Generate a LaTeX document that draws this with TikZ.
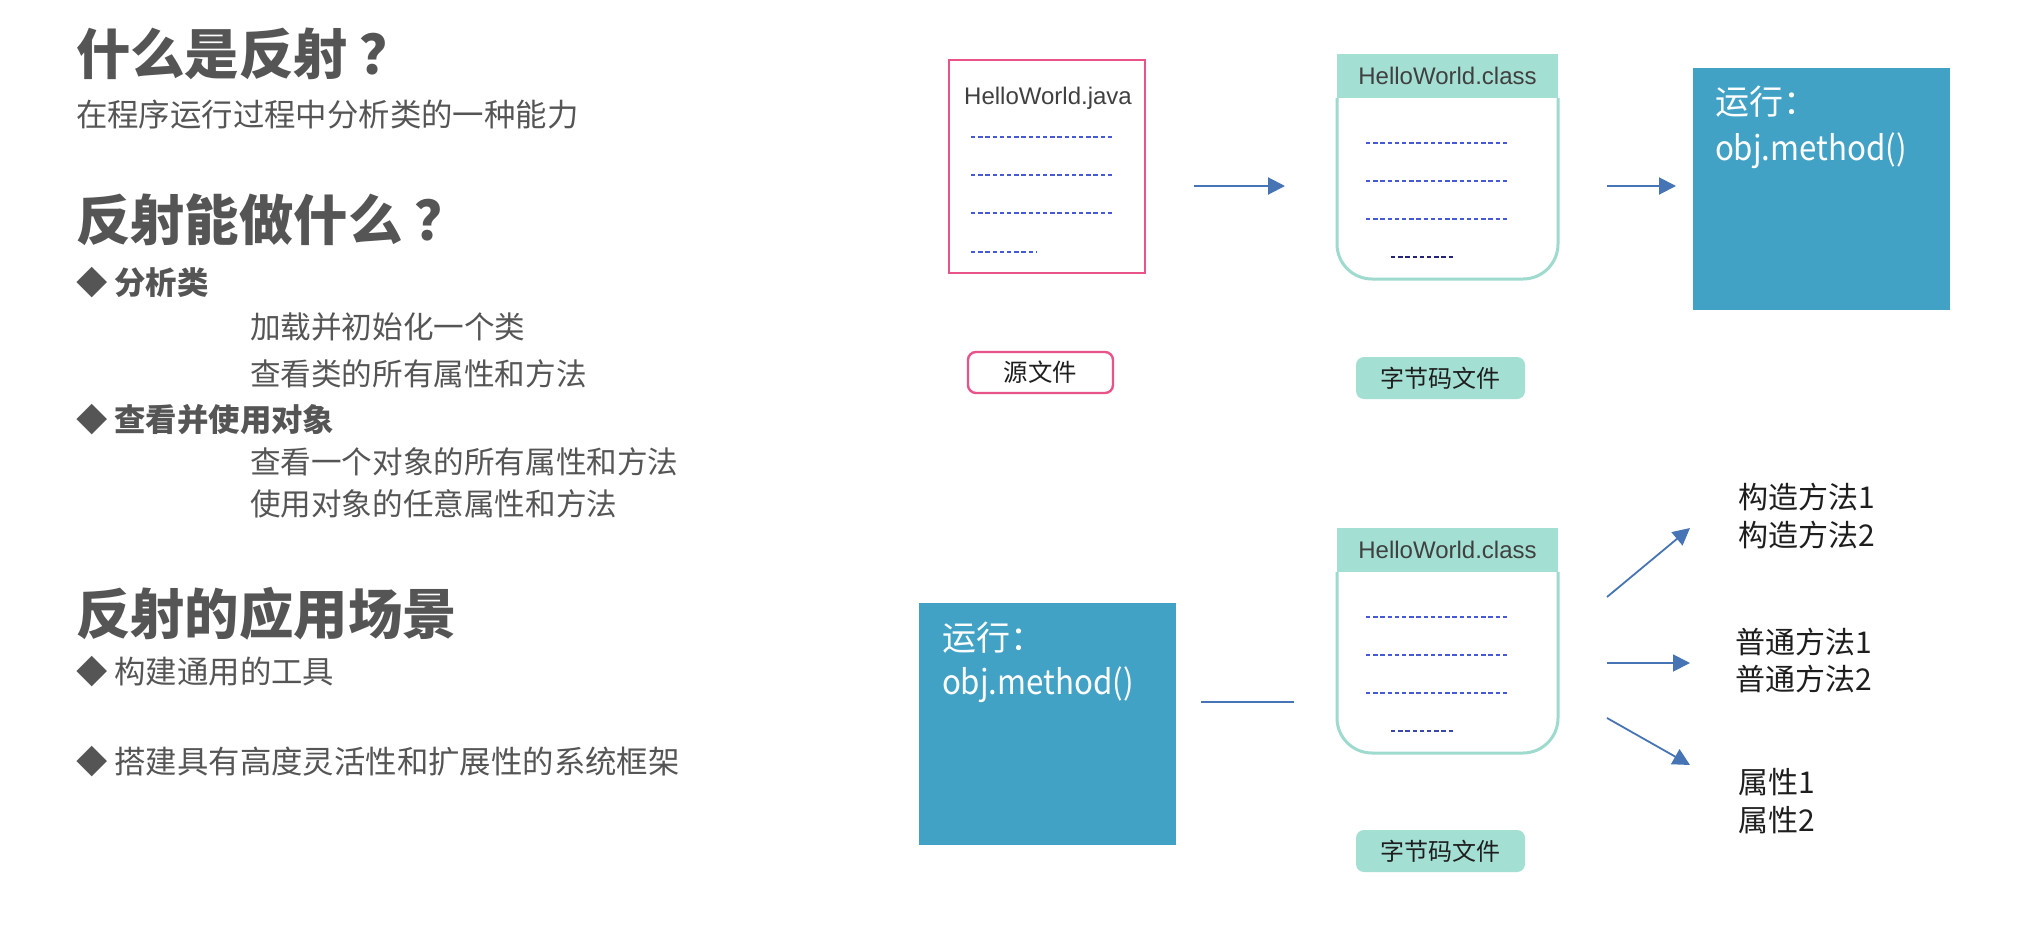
\documentclass[tikz,border=0pt]{standalone}
\usepackage{fontspec}
\setmainfont{Noto Sans CJK SC}
\newfontfamily\arialf{Liberation Sans}
\usetikzlibrary{arrows.meta}
\definecolor{ctxt}{RGB}{85,85,85}
\definecolor{cpink}{RGB}{232,84,138}
\definecolor{cteal}{RGB}{164,223,211}
\definecolor{ctealb}{RGB}{158,218,206}
\definecolor{cblue}{RGB}{66,162,198}
\definecolor{carr}{RGB}{70,116,180}
\definecolor{cdash}{RGB}{70,90,215}
\definecolor{cnavy}{RGB}{35,35,120}
\definecolor{cdark}{RGB}{30,30,30}
\definecolor{cgrey}{RGB}{64,64,64}
\newcommand{\qmk}{{\hspace{0.22em}？}}
\begin{document}
\begin{tikzpicture}[x=0.5pt,y=-0.5pt,
  every node/.style={inner sep=0pt, outer sep=0pt},
  ttl/.style={anchor=base west, text=ctxt, font=\fontsize{27.2pt}{30pt}\selectfont\bfseries},
  bodytxt/.style={anchor=base west, text=ctxt, font=\fontsize{15.7pt}{18pt}\selectfont},
  subtxt/.style={anchor=base west, text=ctxt, font=\fontsize{15.3pt}{18pt}\selectfont},
  bultxt/.style={anchor=base west, text=ctxt, font=\fontsize{15.7pt}{18pt}\selectfont\bfseries},
  dline/.style={cdash, line width=0.7pt, dash pattern=on 2.2pt off 1.4pt},
  arr/.style={carr, line width=1pt, -{Triangle[length=8.5pt,width=8.5pt]}},
  sarr/.style={carr, line width=0.9pt, -{Triangle[length=8.5pt,width=8.5pt]}},
  runbox/.style={fill=cblue, minimum width=128.5pt, minimum height=121pt},
  runtxt/.style={anchor=base west, text=white, font=\fontsize{17pt}{20pt}\selectfont},
  clshead/.style={fill=cteal, minimum width=110.5pt, minimum height=22pt, text=cgrey, font=\arialf\fontsize{12pt}{14pt}\selectfont},
  clsbody/.style={draw=ctealb, line width=1.5pt, rounded corners=17.5pt},
  bytebox/.style={fill=cteal, rounded corners=4pt, minimum width=84.5pt, minimum height=21pt, text=cdark, font=\fontsize{12pt}{14pt}\selectfont},
  listtxt/.style={anchor=base west, text=cdark, font=\fontsize{15pt}{18pt}\selectfont}
]
\useasboundingbox (0,0) rectangle (2024,932);
\fill[white] (0,0) rectangle (2024,932);

% ---------- left text ----------
\node[ttl] (t1) at (76,74) {什么是反射\qmk};
\node[bodytxt] (s1) at (76,126) {在程序运行过程中分析类的一种能力};
\node[ttl] (t2) at (76,240) {反射能做什么\qmk};
\node[bultxt] (b1) at (76,294) {◆ 分析类};
\node[subtxt] (b1a) at (250,338) {加载并初始化一个类};
\node[subtxt] (b1b) at (250,385) {查看类的所有属性和方法};
\node[bultxt] (b2) at (76,431) {◆ 查看并使用对象};
\node[subtxt] (b2a) at (250,473) {查看一个对象的所有属性和方法};
\node[subtxt] (b2b) at (250,515) {使用对象的任意属性和方法};
\node[ttl] (t3) at (76,634) {反射的应用场景};
\node[bodytxt] (c1) at (76,683) {◆ 构建通用的工具};
\node[bodytxt] (c2) at (76,773) {◆ 搭建具有高度灵活性和扩展性的系统框架};

% ---------- top right diagram ----------
\node[draw=cpink, line width=1.3pt, minimum width=98pt, minimum height=106.5pt] (java) at (1047,166.5) {};
\node[text=cgrey, font=\arialf\fontsize{12pt}{14pt}\selectfont] (javat) at (1048,98) {HelloWorld.java};
\draw[dline] (971,137) -- (1112,137);
\draw[dline] (971,175) -- (1112,175);
\draw[dline] (971,213) -- (1112,213);
\draw[dline] (971,252) -- (1036,252);
\node[draw=cpink, line width=1.2pt, rounded corners=4pt, fill=white, minimum width=72.5pt, minimum height=20.5pt, text=cdark, font=\fontsize{12.2pt}{14pt}\selectfont] (src) at (1040.5,372.5) {源文件};

\node[clshead] (cls1) at (1447.5,76) {HelloWorld.class};
\draw[clsbody] (cls1.south west) -- (1337,279) -- (1558,279) -- (cls1.south east);
\draw[dline] (1366,143) -- (1507,143);
\draw[dline] (1366,181) -- (1507,181);
\draw[dline] (1366,219) -- (1507,219);
\draw[dline, cnavy] (1391,257) -- (1455,257);
\node[bytebox] (byte1) at (1440.5,378) {字节码文件};

\coordinate (a1s) at (1194,186);
\coordinate (a1e) at (1285,186);
\draw[arr] (a1s) -- (a1e);
\coordinate (a2s) at (1607,186);
\coordinate (a2e) at (1676,186);
\draw[arr] (a2s) -- (a2e);

\node[runbox] (run1) at (1821.5,189) {};
\node[runtxt] (run1a) at (1715,114) {运行：};
\node[runtxt] (run1b) at (1715,160) {\scalebox{0.92}[1]{obj.method()}};

% ---------- bottom right diagram ----------
\node[runbox] (run2) at (1047,723.5) {};
\node[runtxt] (run2a) at (942,650) {运行：};
\node[runtxt] (run2b) at (942,694) {\scalebox{0.92}[1]{obj.method()}};

\coordinate (l1s) at (1201,702);
\coordinate (l1e) at (1294,702);
\draw[carr, line width=1.3pt] (l1s) -- (l1e);

\node[clshead] (cls2) at (1447.5,550) {HelloWorld.class};
\draw[clsbody] (cls2.south west) -- (1337,753) -- (1558,753) -- (cls2.south east);
\draw[dline] (1366,617) -- (1507,617);
\draw[dline] (1366,655) -- (1507,655);
\draw[dline] (1366,693) -- (1507,693);
\draw[dline, cdash!80!black] (1391,731) -- (1455,731);
\node[bytebox] (byte2) at (1440.5,851) {字节码文件};

\node[listtxt] (m1) at (1738,508) {构造方法1};
\node[listtxt] (m2) at (1738,546) {构造方法2};
\node[listtxt] (n1) at (1735,653) {普通方法1};
\node[listtxt] (n2) at (1735,690) {普通方法2};
\node[listtxt] (p1) at (1738,793) {属性1};
\node[listtxt] (p2) at (1738,831) {属性2};

\coordinate (u0) at (1607,597);
\coordinate (u1) at (1690,528);
\coordinate (h0) at (1607,663);
\coordinate (h1) at (1690,663);
\coordinate (d0) at (1607,718);
\coordinate (d1) at (1690,765);
\draw[sarr] (u0) -- (u1);
\draw[sarr] (h0) -- (h1);
\draw[sarr] (d0) -- (d1);
\end{tikzpicture}
\end{document}
